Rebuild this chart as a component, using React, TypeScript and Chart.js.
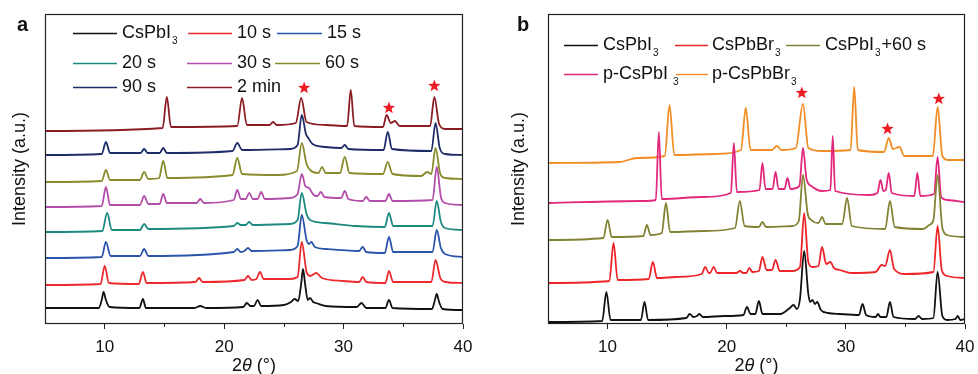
import React, { useEffect, useRef } from 'react';
import { Chart, registerables } from 'chart.js';

Chart.register(...registerables);

const FONT = '"Liberation Sans", Arial, Helvetica, sans-serif';

type Pt = [number, number];

// ---------- axis ----------
const xRange: Pt = [5, 40];
const yRange: Pt = [0, 310];
const xMajorTicks = [10, 20, 30, 40];
const xMinorTicks = [15, 25, 35];
const xTitleParts = ['2', 'θ', ' (°)'];
const yTitle = 'Intensity (a.u.)';

// ---------- panel a data (2θ, intensity incl. stacking offset) ----------
const aCsPbI3: Pt[] = [[5,16],[9.5,16],[9.75,24],[9.9,32],[10.1,24],[10.4,17],[12.9,16],[13.2,25],[13.45,16],[17.5,16],[18,18],[18.5,16],[21.6,17],[21.9,21],[22.2,18],[22.5,18],[22.8,24],[23.1,18],[25,19],[25.6,22],[25.9,25],[26.2,23],[26.45,40],[26.6,55],[26.8,38],[27.0,24],[27.2,26],[27.45,22],[27.7,21],[28.5,18],[31.1,17],[31.5,21],[31.9,16],[33.5,16],[33.8,24],[34.1,16],[37.4,15],[37.65,24],[37.8,30],[38.0,22],[38.3,15],[40,14]];
const a10s: Pt[] = [[5,39],[9.65,40],[10.0,58],[10.35,41],[12.85,40],[13.2,52],[13.5,41],[17.6,42],[17.9,46],[18.2,42],[21.7,44],[22.0,48],[22.3,44],[22.7,45],[23.0,52],[23.3,45],[25.5,45],[26.15,47],[26.5,82],[26.9,52],[27.2,48],[27.7,51],[28.2,46],[30,43],[31.3,42],[31.6,47],[31.9,42],[33.5,41],[33.8,53],[34.15,42],[37.35,42],[37.7,64],[38.1,46],[38.5,42],[40,41]];
const a15s: Pt[] = [[5,66],[9.75,67],[10.1,82],[10.5,68],[12.95,68],[13.3,75],[13.65,68],[20.8,72],[21.1,75],[21.4,72],[21.7,73],[22.0,76],[22.3,73],[25.5,74],[26.15,78],[26.5,109],[26.9,84],[27.1,80],[27.3,82],[27.6,77],[28.5,75],[31.3,73],[31.6,77],[31.9,72],[33.45,71],[33.8,87],[34.15,72],[37.45,72],[37.8,94],[38.15,76],[38.5,70],[40,67]];
const a20s: Pt[] = [[5,92],[9.8,93],[10.2,111],[10.6,94],[12.95,94],[13.3,100],[13.65,95],[20.8,98],[21.1,101],[21.4,99],[21.8,99],[22.1,102],[22.4,99],[25.5,100],[26.15,104],[26.5,131],[26.9,110],[27.2,104],[28.5,101],[31,98],[33.45,97],[33.8,111],[34.15,98],[37.45,98],[37.8,123],[38.15,102],[38.5,96],[40,94]];
const a30s: Pt[] = [[5,117],[9.75,118],[10.1,137],[10.45,119],[12.95,119],[13.3,128],[13.65,120],[14.6,120],[14.9,130],[15.2,121],[17.7,121],[18.0,125],[18.3,121],[20.8,124],[21.1,134],[21.4,125],[21.8,125],[22.1,131],[22.4,125],[22.8,125],[23.1,132],[23.4,125],[25.5,126],[26.15,130],[26.5,150],[26.8,138],[27.1,136],[27.5,129],[27.8,128],[28.1,132],[28.4,127],[29.8,126],[30.1,133],[30.4,125],[31.6,123],[31.9,127],[32.2,123],[33.5,123],[33.8,130],[34.1,123],[37.45,124],[37.8,157],[38.15,127],[38.5,121],[40,119]];
const a60s: Pt[] = [[5,142],[9.75,143],[10.1,154],[10.45,144],[12.95,144],[13.3,152],[13.65,145],[14.55,146],[14.9,163],[15.25,146],[20.7,149],[21.1,166],[21.5,150],[24.5,149],[26.1,153],[26.5,181],[26.9,160],[27.2,154],[27.9,151],[28.2,157],[28.5,151],[29.7,151],[30.1,167],[30.5,151],[33.3,150],[33.7,162],[34.1,150],[36.5,148],[37.0,152],[37.35,150],[37.7,176],[38.1,150],[38.5,146],[40,145]];
const a90s: Pt[] = [[5,169],[9.75,170],[10.1,182],[10.45,171],[13.0,171],[13.3,175],[13.6,171],[14.6,171],[14.9,176],[15.2,171],[20.7,173],[21.1,181],[21.5,174],[25.5,175],[26.15,179],[26.5,209],[26.85,190],[27.05,186],[27.4,180],[28.5,177],[29.8,176],[30.1,179],[30.4,175],[33.35,174],[33.7,192],[34.05,175],[37.35,173],[37.7,201],[38.05,176],[38.5,170],[40,169]];
const a2min: Pt[] = [[5,193],[14.85,196],[15.2,227],[15.55,197],[21.1,198],[21.5,226],[21.9,199],[23.8,199],[24.1,202],[24.4,199],[26.0,201],[26.45,226],[26.9,202],[28.5,199],[30.3,198],[30.6,234],[30.9,198],[33.3,197],[33.6,209],[33.95,201],[34.3,203],[34.7,198],[37.25,198],[37.6,227],[38.0,200],[38.5,195],[40,195]];
const aStars: Pt[] = [[26.7, 236], [33.8, 216], [37.6, 238]];

// ---------- panel b data ----------
const bCsPbI3: Pt[] = [[5,2],[9.55,3],[9.9,32],[10.25,4],[12.8,4],[13.1,22],[13.4,4],[16.6,6],[16.9,10],[17.2,7],[17.5,8],[17.7,10],[18.0,7],[19.8,8],[21.4,9],[21.7,17],[22.0,10],[22.4,10],[22.7,23],[23.0,10],[24.5,10],[25.3,16],[25.6,19],[25.9,15],[26.15,25],[26.5,73],[26.85,30],[27.0,22],[27.2,24],[27.4,20],[27.6,22],[27.9,14],[28.5,11],[29.5,10],[31.1,9],[31.4,20],[31.7,9],[32.5,7],[32.7,10],[32.9,7],[33.4,7],[33.7,22],[34.0,7],[35.8,5],[36.1,8],[36.4,5],[37.35,6],[37.7,52],[38.1,8],[38.5,4],[39.2,5],[39.4,8],[39.6,4],[40,5]];
const bCsPbBr3: Pt[] = [[5,41],[10.15,43],[10.5,81],[10.85,44],[13.45,45],[13.8,62],[14.15,46],[15.7,47],[17.9,50],[18.2,57],[18.5,51],[18.6,51],[18.9,57],[19.2,51],[20.8,51],[21.1,53],[21.4,51],[21.65,51],[21.9,56],[22.15,52],[22.7,53],[23.0,67],[23.35,54],[23.8,54],[24.1,64],[24.45,53],[25.5,53],[26.15,57],[26.5,111],[26.85,62],[27.2,57],[27.7,58],[28.0,77],[28.35,60],[28.7,62],[29.0,56],[29.5,54],[30.5,51],[32.5,52],[33.0,59],[33.3,58],[33.7,74],[34.05,55],[35,50],[37.35,52],[37.7,98],[38.05,54],[38.5,48],[40,46]];
const bMix60s: Pt[] = [[5,84],[9.65,86],[10.0,104],[10.35,87],[13.0,88],[13.3,99],[13.6,89],[14.55,91],[14.9,121],[15.25,92],[18,93],[20.7,96],[21.1,123],[21.5,98],[22.7,97],[23.0,102],[23.3,97],[25.5,98],[26.05,103],[26.4,149],[26.8,110],[27.1,104],[27.7,101],[28.0,107],[28.3,100],[29.7,100],[30.1,126],[30.5,98],[33.3,95],[33.7,123],[34.1,97],[36.5,95],[37.0,99],[37.35,104],[37.7,149],[38.1,96],[38.5,89],[40,87]];
const bPCsPbI3: Pt[] = [[5,121],[13.0,123],[14.05,124],[14.3,192],[14.55,125],[18,127],[20.35,131],[20.6,181],[20.85,132],[22.75,134],[23.0,161],[23.25,135],[23.85,135],[24.1,152],[24.35,135],[24.85,135],[25.1,146],[25.35,135],[26.1,138],[26.4,176],[26.7,145],[27.1,138],[28.0,133],[28.7,134],[28.9,188],[29.1,133],[32.0,129],[32.65,131],[32.9,144],[33.15,133],[33.35,134],[33.6,151],[33.85,131],[35.75,128],[36.0,151],[36.25,128],[37.4,130],[37.7,167],[38.0,127],[38.5,124],[40,122]];
const bPCsPbBr3: Pt[] = [[5,161],[11,162],[12.5,166],[14.8,168],[15.2,219],[15.6,169],[19,170],[21.2,174],[21.6,216],[22.0,174],[23.8,174],[24.2,178],[24.6,174],[25.8,176],[26.4,220],[26.85,176],[28,173],[30.4,174],[30.7,237],[31.0,174],[33.2,172],[33.6,186],[33.95,175],[34.5,177],[34.9,168],[37.3,168],[37.7,217],[38.1,168],[38.6,164],[40,164]];
const bStars: Pt[] = [[26.3, 231], [33.5, 195], [37.8, 225]];

interface Series { main: string; sub: string; tail: string; color: string; data: Pt[] }

const seriesA: Series[] = [
  { main: 'CsPbI', sub: '3', tail: '', color: '#111111', data: aCsPbI3 },
  { main: '10 s', sub: '', tail: '', color: '#ec2a2d', data: a10s },
  { main: '15 s', sub: '', tail: '', color: '#2b55aa', data: a15s },
  { main: '20 s', sub: '', tail: '', color: '#1d8a80', data: a20s },
  { main: '30 s', sub: '', tail: '', color: '#b24eaa', data: a30s },
  { main: '60 s', sub: '', tail: '', color: '#898a2c', data: a60s },
  { main: '90 s', sub: '', tail: '', color: '#1e2c68', data: a90s },
  { main: '2 min', sub: '', tail: '', color: '#8c1c24', data: a2min },
];
const seriesB: Series[] = [
  { main: 'CsPbI', sub: '3', tail: '', color: '#111111', data: bCsPbI3 },
  { main: 'CsPbBr', sub: '3', tail: '', color: '#ee2428', data: bCsPbBr3 },
  { main: 'CsPbI', sub: '3', tail: '+60 s', color: '#828234', data: bMix60s },
  { main: 'p-CsPbI', sub: '3', tail: '', color: '#e2287c', data: bPCsPbI3 },
  { main: 'p-CsPbBr', sub: '3', tail: '', color: '#f28c24', data: bPCsPbBr3 },
];

// legend layout (canvas px): series index, line start/end, text x, row y, sub gap
const legendLayoutA = [
  { i: 0, l1: 73, l2: 117, tx: 122, y: 33, g: 1 },
  { i: 1, l1: 188, l2: 232, tx: 237, y: 33, g: 1 },
  { i: 2, l1: 277, l2: 322, tx: 327, y: 33, g: 1 },
  { i: 3, l1: 73, l2: 117, tx: 122, y: 63, g: 1 },
  { i: 4, l1: 187, l2: 232, tx: 237, y: 63, g: 1 },
  { i: 5, l1: 275, l2: 320, tx: 325, y: 63, g: 1 },
  { i: 6, l1: 73, l2: 117, tx: 122, y: 87, g: 1 },
  { i: 7, l1: 187, l2: 232, tx: 237, y: 87, g: 1 },
];
const legendLayoutB = [
  { i: 0, l1: 75, l2: 109, tx: 114, y: 45, g: 1 },
  { i: 1, l1: 186, l2: 219, tx: 223, y: 45, g: 1 },
  { i: 2, l1: 297, l2: 331, tx: 336, y: 45, g: 1 },
  { i: 3, l1: 75, l2: 109, tx: 114, y: 74, g: 5 },
  { i: 4, l1: 187, l2: 219, tx: 223, y: 74, g: 1 },
];

interface PanelProps {
  series: Series[];
  legend: typeof legendLayoutA;
  stars: Pt[];
  letter: string;
  letterX: number;
  left: number;
  padLeft: number;
  padRight: number;
  yAxisWidth: number;
}

function drawStar(ctx: CanvasRenderingContext2D, cx: number, cy: number, R: number, r: number) {
  ctx.beginPath();
  for (let k = 0; k < 10; k++) {
    const rad = k % 2 === 0 ? R : r;
    const ang = -Math.PI / 2 + (k * Math.PI) / 5;
    const px = cx + rad * Math.cos(ang);
    const py = cy + rad * Math.sin(ang);
    if (k === 0) ctx.moveTo(px, py); else ctx.lineTo(px, py);
  }
  ctx.closePath();
  ctx.fill();
}

function Panel(p: PanelProps) {
  const ref = useRef<HTMLCanvasElement | null>(null);
  useEffect(() => {
    const canvas = ref.current;
    if (!canvas) return;
    const decor = {
      id: 'decor',
      afterDraw(chart: any) {
        const ctx: CanvasRenderingContext2D = chart.ctx;
        const ca = chart.chartArea;
        const xs = chart.scales.x;
        const ys = chart.scales.y;
        ctx.save();
        // frame
        ctx.strokeStyle = '#222';
        ctx.lineWidth = 1.2;
        ctx.strokeRect(Math.round(ca.left) + 0.5, Math.round(ca.top) + 0.5, Math.round(ca.right - ca.left) - 1, Math.round(ca.bottom - ca.top) - 1);
        // minor ticks
        ctx.lineWidth = 1;
        ctx.beginPath();
        for (const v of xMinorTicks) {
          const px = Math.round(xs.getPixelForValue(v)) + 0.5;
          ctx.moveTo(px, ca.bottom);
          ctx.lineTo(px, ca.bottom + 3);
        }
        ctx.stroke();
        // stars
        ctx.fillStyle = '#ee1c24';
        for (const [sx, sy] of p.stars) {
          drawStar(ctx, xs.getPixelForValue(sx), ys.getPixelForValue(sy), 6.5, 2.7);
        }
        // legend
        ctx.textBaseline = 'middle';
        ctx.textAlign = 'left';
        for (const it of p.legend) {
          const s = p.series[it.i];
          ctx.strokeStyle = s.color;
          ctx.lineWidth = 1.4;
          ctx.beginPath();
          ctx.moveTo(it.l1, it.y + 0.5);
          ctx.lineTo(it.l2, it.y + 0.5);
          ctx.stroke();
          ctx.fillStyle = '#111';
          ctx.font = `18px ${FONT}`;
          ctx.fillText(s.main, it.tx, it.y);
          let x = it.tx + ctx.measureText(s.main).width;
          if (s.sub) {
            ctx.font = `10px ${FONT}`;
            x += it.g;
            ctx.fillText(s.sub, x, it.y + 8);
            x += ctx.measureText(s.sub).width + 1;
          }
          if (s.tail) {
            ctx.font = `18px ${FONT}`;
            ctx.fillText(s.tail, x, it.y);
          }
        }
        // x title with italic theta
        const fonts = [`18px ${FONT}`, `italic 18px ${FONT}`, `18px ${FONT}`];
        let total = 0;
        const widths = xTitleParts.map((t, k) => { ctx.font = fonts[k]; const w = ctx.measureText(t).width; total += w; return w; });
        let tx = (ca.left + ca.right) / 2 - total / 2;
        ctx.fillStyle = '#111';
        xTitleParts.forEach((t, k) => { ctx.font = fonts[k]; ctx.fillText(t, tx, 366); tx += widths[k]; });
        // panel letter
        ctx.font = `bold 20px ${FONT}`;
        ctx.textBaseline = 'alphabetic';
        ctx.fillText(p.letter, p.letterX, 31);
        ctx.restore();
      },
    };
    const chart = new Chart(canvas, {
      type: 'line',
      data: {
        datasets: p.series.map((s) => ({
          label: s.main + s.sub + s.tail,
          data: s.data.map(([x, y]) => ({ x, y })),
          borderColor: s.color,
          backgroundColor: s.color,
          borderWidth: 1.8,
          pointRadius: 0,
          cubicInterpolationMode: 'monotone' as const,
          fill: false,
        })),
      },
      options: {
        animation: false,
        responsive: false,
        layout: { padding: { left: p.padLeft, right: p.padRight, top: 14, bottom: 0 } },
        plugins: { legend: { display: false }, tooltip: { enabled: false } },
        scales: {
          x: {
            type: 'linear',
            min: xRange[0],
            max: xRange[1],
            afterBuildTicks: (s: any) => { s.ticks = xMajorTicks.map((v) => ({ value: v })); },
            afterFit: (s: any) => { s.height = 50; s.paddingLeft = 0; s.paddingRight = 0; },
            grid: { display: true, drawOnChartArea: false, tickLength: 5, color: '#222', lineWidth: 1 },
            border: { display: false },
            ticks: { color: '#111', font: { family: FONT, size: 17 }, padding: 8, maxRotation: 0, autoSkip: false },
          },
          y: {
            type: 'linear',
            min: yRange[0],
            max: yRange[1],
            afterFit: (s: any) => { s.width = p.yAxisWidth; },
            grid: { display: false },
            border: { display: false },
            ticks: { display: false },
            title: { display: true, text: yTitle, color: '#111', font: { family: FONT, size: 18 }, padding: { top: 9, bottom: 0 } },
          },
        },
      },
      plugins: [decor],
    } as any);
    return () => chart.destroy();
  }, []);
  return (
    <canvas
      ref={ref}
      width={489}
      height={374}
      style={{ position: 'absolute', left: p.left, top: 0, width: 489, height: 374 }}
    />
  );
}

export default function App() {
  return (
    <div style={{ position: 'fixed', left: 0, top: 0, width: 978, height: 374, background: '#fff' }}>
      <Panel series={seriesA} legend={legendLayoutA} stars={aStars} letter="a" letterX={17} left={0} padLeft={0} padRight={26} yAxisWidth={45} />
      <Panel series={seriesB} legend={legendLayoutB} stars={bStars} letter="b" letterX={28} left={489} padLeft={10} padRight={13} yAxisWidth={49} />
    </div>
  );
}
